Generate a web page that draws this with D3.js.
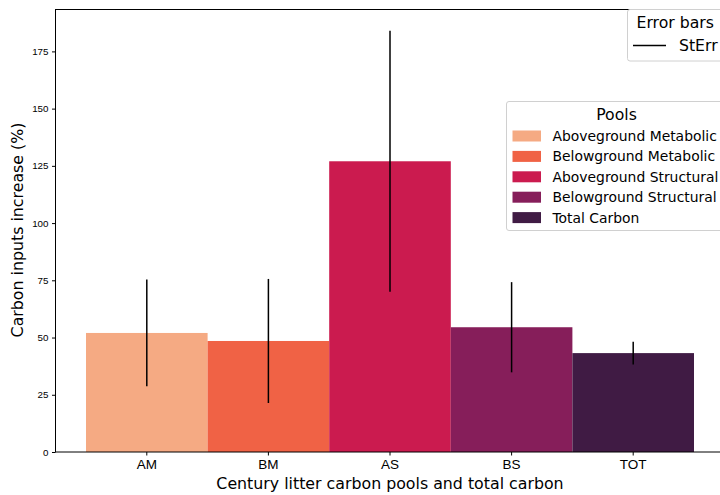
<!DOCTYPE html>
<html>
<head>
<meta charset="utf-8">
<script src="https://cdn.jsdelivr.net/npm/d3@7"></script>
<style>
  body { margin: 0; background: #fff; }
  svg { font-family: "DejaVu Sans", sans-serif; }
  .axis path, .axis line { stroke: #000; }
  .axis text { fill: #000; }
</style>
</head>
<body>
<svg width="720" height="495"></svg>
<script>
'use strict';

// pools and their values (percent increase)
var CATEGORIES = ['AM', 'BM', 'AS', 'BS', 'TOT'];
var POOL_NAMES = ['Aboveground Metabolic', 'Belowground Metabolic', 'Aboveground Structural', 'Belowground Structural', 'Total Carbon'];
var VALUES = [52, 48.5, 127, 54.5, 43.2];
var ERRORS = [23.3, 27.1, 57, 19.7, 5];
var COLORS = ['#f5aa83', '#f06245', '#cb1b4f', '#861e5a', '#401b44'];
var Y_TICKS = [0, 25, 50, 75, 100, 125, 150, 175];

var svg = d3.select('svg');
var plot = { left: 55.5, right: 724.5, top: 9.5, bottom: 452 };

var xScale = d3.scaleBand().domain(CATEGORIES).range([86, 694]).padding(0);
var yScale = d3.scaleLinear().domain([0, 193.3]).range([plot.bottom, plot.top]);

// bars
svg.append('g').selectAll('rect').data(VALUES).enter().append('rect')
  .attr('x', function (d, i) { return xScale(CATEGORIES[i]); })
  .attr('width', xScale.bandwidth())
  .attr('y', function (d) { return yScale(d); })
  .attr('height', function (d) { return plot.bottom - yScale(d); })
  .attr('fill', function (d, i) { return COLORS[i]; });

// error bars
svg.append('g').selectAll('line').data(VALUES).enter().append('line')
  .attr('x1', function (d, i) { return xScale(CATEGORIES[i]) + xScale.bandwidth() / 2; })
  .attr('x2', function (d, i) { return xScale(CATEGORIES[i]) + xScale.bandwidth() / 2; })
  .attr('y1', function (d, i) { return yScale(d + ERRORS[i]); })
  .attr('y2', function (d, i) { return yScale(d - ERRORS[i]); })
  .attr('stroke', '#000')
  .attr('stroke-width', 1.5);

// axes
var xa = svg.append('g').attr('class', 'x axis')
  .attr('transform', 'translate(0,' + plot.bottom + ')')
  .call(d3.axisBottom(xScale).tickSize(3.5).tickSizeOuter(0).tickPadding(4));
xa.select('.domain').remove();
xa.selectAll('text').attr('font-size', 13.5);

var ya = svg.append('g').attr('class', 'y axis')
  .attr('transform', 'translate(' + plot.left + ',0)')
  .call(d3.axisLeft(yScale).tickValues(Y_TICKS).tickSize(3.5).tickPadding(3.5));
ya.select('.domain').remove();
ya.selectAll('text').attr('font-size', 9.8);

// frame
svg.append('rect')
  .attr('x', plot.left).attr('y', plot.top)
  .attr('width', plot.right - plot.left).attr('height', plot.bottom - plot.top)
  .attr('fill', 'none').attr('stroke', '#000').attr('stroke-width', 1);

// axis titles
svg.append('text')
  .attr('x', 390).attr('y', 489)
  .attr('text-anchor', 'middle').attr('font-size', 15.8)
  .text('Century litter carbon pools and total carbon');

svg.append('text')
  .attr('transform', 'translate(23,230) rotate(-90)')
  .attr('text-anchor', 'middle').attr('font-size', 15.8)
  .text('Carbon inputs increase (%)');

// legend: error bars
var lg1 = svg.append('g');
lg1.append('rect')
  .attr('x', 627.5).attr('y', 9.5).attr('width', 100).attr('height', 51.5).attr('rx', 2.5)
  .attr('fill', 'rgba(255,255,255,0.8)').attr('stroke', '#d0d0d0');
lg1.append('text').attr('x', 636.5).attr('y', 28).attr('font-size', 15.7).text('Error bars');
lg1.append('line').attr('x1', 633).attr('x2', 666).attr('y1', 45.5).attr('y2', 45.5)
  .attr('stroke', '#000').attr('stroke-width', 1.5);
lg1.append('text').attr('x', 679).attr('y', 51).attr('font-size', 15.7).text('StErr');

// legend: pools
var lg2 = svg.append('g');
lg2.append('rect')
  .attr('x', 506.5).attr('y', 101.5).attr('width', 220).attr('height', 129).attr('rx', 2.5)
  .attr('fill', 'rgba(255,255,255,0.8)').attr('stroke', '#d0d0d0');
lg2.append('text').attr('x', 616.5).attr('y', 120).attr('text-anchor', 'middle')
  .attr('font-size', 15.7).text('Pools');
var rows = lg2.selectAll('g.row').data(POOL_NAMES).enter().append('g').attr('class', 'row')
  .attr('transform', function (d, i) { return 'translate(0,' + (136 + i * 20.4) + ')'; });
rows.append('rect').attr('x', 512.5).attr('y', -5.5).attr('width', 28.5).attr('height', 11)
  .attr('fill', function (d, i) { return COLORS[i]; });
rows.append('text').attr('x', 552.5).attr('y', 5).attr('font-size', 13.9)
  .text(function (d) { return d; });
</script>
</body>
</html>
